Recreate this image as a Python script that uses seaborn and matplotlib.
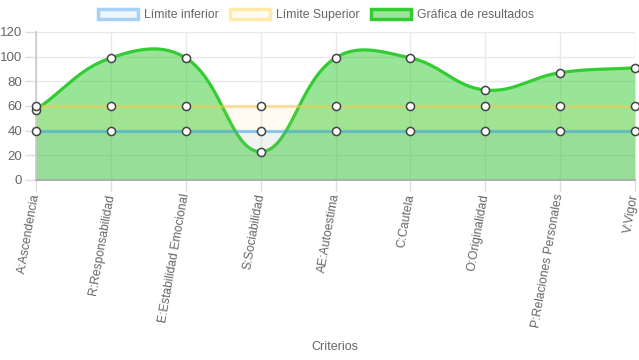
import numpy as np
import pandas as pd
import matplotlib
matplotlib.use('Agg')
import matplotlib.pyplot as plt
import seaborn as sns
from matplotlib.patches import Patch

# datos
criterios = ['A:Ascendencia', 'R:Responsabilidad', 'E:Estabilidad Emocional',
             'S:Sociabilidad', 'AE:Autoestima', 'C:Cautela', 'O:Originalidad',
             'P:Relaciones Personales', 'V:Vigor']
limite_inferior = [40, 40, 40, 40, 40, 40, 40, 40, 40]
limite_superior = [60, 60, 60, 60, 60, 60, 60, 60, 60]
resultados = [57, 99, 99, 23, 99, 99, 73, 87, 91]

sns.set_theme(style='white')
plt.rcParams['font.family'] = ['Liberation Sans', 'DejaVu Sans']

gris = '#666666'
azul = '#36a2eb'
amarillo = '#ffce56'
verde = '#33cc33'


# curva tipo chart.js (tension 0.4), calculada en pixeles
def curva(y, sx=75.0, sy=1.233, t=0.4, n=40):
    x = np.arange(len(y), dtype=float)
    px, py = x * sx, np.array(y, dtype=float) * sy
    prev_c, next_c = [], []
    for i in range(len(y)):
        a = max(i - 1, 0)
        b = min(i + 1, len(y) - 1)
        d01 = np.hypot(px[i] - px[a], py[i] - py[a])
        d12 = np.hypot(px[b] - px[i], py[b] - py[i])
        s01 = d01 / (d01 + d12) if d01 + d12 else 0
        s12 = d12 / (d01 + d12) if d01 + d12 else 0
        fa, fb = t * s01, t * s12
        prev_c.append((px[i] - fa * (px[b] - px[a]), py[i] - fa * (py[b] - py[a])))
        next_c.append((px[i] + fb * (px[b] - px[a]), py[i] + fb * (py[b] - py[a])))
    xs, ys = [], []
    tt = np.linspace(0, 1, n)
    for i in range(len(y) - 1):
        p0 = np.array([px[i], py[i]])
        p1 = np.array(next_c[i])
        p2 = np.array(prev_c[i + 1])
        p3 = np.array([px[i + 1], py[i + 1]])
        pts = ((1 - tt) ** 3)[:, None] * p0 + (3 * (1 - tt) ** 2 * tt)[:, None] * p1 \
            + (3 * (1 - tt) * tt ** 2)[:, None] * p2 + (tt ** 3)[:, None] * p3
        xs.extend(pts[:, 0] / sx)
        ys.extend(pts[:, 1] / sy)
    return np.array(xs), np.array(ys)


fig = plt.figure(figsize=(6.39, 3.6), dpi=100)
ax = fig.add_axes([36 / 639, 0.5, 599 / 639, 148 / 360])

pos = np.arange(len(criterios))
df = pd.DataFrame({'x': pos, 'inf': limite_inferior, 'sup': limite_superior, 'res': resultados})

# resultados (se dibuja primero, queda debajo)
cx, cy = curva(resultados)
ax.fill_between(cx, 0, cy, color=verde, alpha=0.5, lw=0, zorder=2)
ax.plot(cx, cy, color=verde, lw=2.3, zorder=3, solid_capstyle='round')

# limites
ax.fill_between(pos, 0, limite_superior, color=amarillo, alpha=0.08, lw=0, zorder=4)
sns.lineplot(data=df, x='x', y='sup', color=amarillo, alpha=0.5, lw=2.3, ax=ax, zorder=5)
ax.fill_between(pos, 0, limite_inferior, color=azul, alpha=0.07, lw=0, zorder=6)
sns.lineplot(data=df, x='x', y='inf', color=azul, alpha=0.5, lw=2.3, ax=ax, zorder=7)

# puntos
for col in ['res', 'sup', 'inf']:
    sns.scatterplot(data=df, x='x', y=col, s=34, color='white', edgecolor='#444444',
                    linewidth=1.1, ax=ax, zorder=10, clip_on=False)

ax.set_xlim(0, len(criterios) - 1)
ax.set_ylim(0, 120)
ax.set_yticks(np.arange(0, 121, 20))
ax.set_xticks(pos)
ax.set_xticklabels(criterios, rotation=80, ha='right', va='center', rotation_mode='anchor',
                   fontsize=8.7, color=gris)
ax.tick_params(axis='y', labelsize=9.5, labelcolor=gris)
ax.tick_params(axis='both', which='both', length=8, width=1, color='#dddddd',
               left=True, bottom=True, pad=2)
ax.grid(True, color='#e8e8e8', lw=1)
ax.set_axisbelow(True)
for s in ['top', 'right']:
    ax.spines[s].set_visible(False)
ax.spines['left'].set_color('#cccccc')
ax.spines['bottom'].set_color('#aaaaaa')
ax.set_xlabel('')
ax.set_ylabel('')

fig.text(335 / 639, 1 - 347 / 360, 'Criterios', ha='center', va='center', fontsize=9, color=gris)

handles = [Patch(facecolor='#edf6fd', edgecolor='#a8d2f5', lw=2.5, label='Límite inferior'),
           Patch(facecolor='#fffbef', edgecolor='#ffeaaa', lw=2.5, label='Límite Superior'),
           Patch(facecolor='#99e699', edgecolor=verde, lw=2.5, label='Gráfica de resultados')]
fig.legend(handles=handles, loc='center', bbox_to_anchor=(316 / 639, 1 - 15 / 360), ncol=3,
           frameon=False, fontsize=8.8, labelcolor=gris, handlelength=3.3, handleheight=0.9,
           columnspacing=0.9, handletextpad=0.5)

fig.savefig('out.png', dpi=100)
